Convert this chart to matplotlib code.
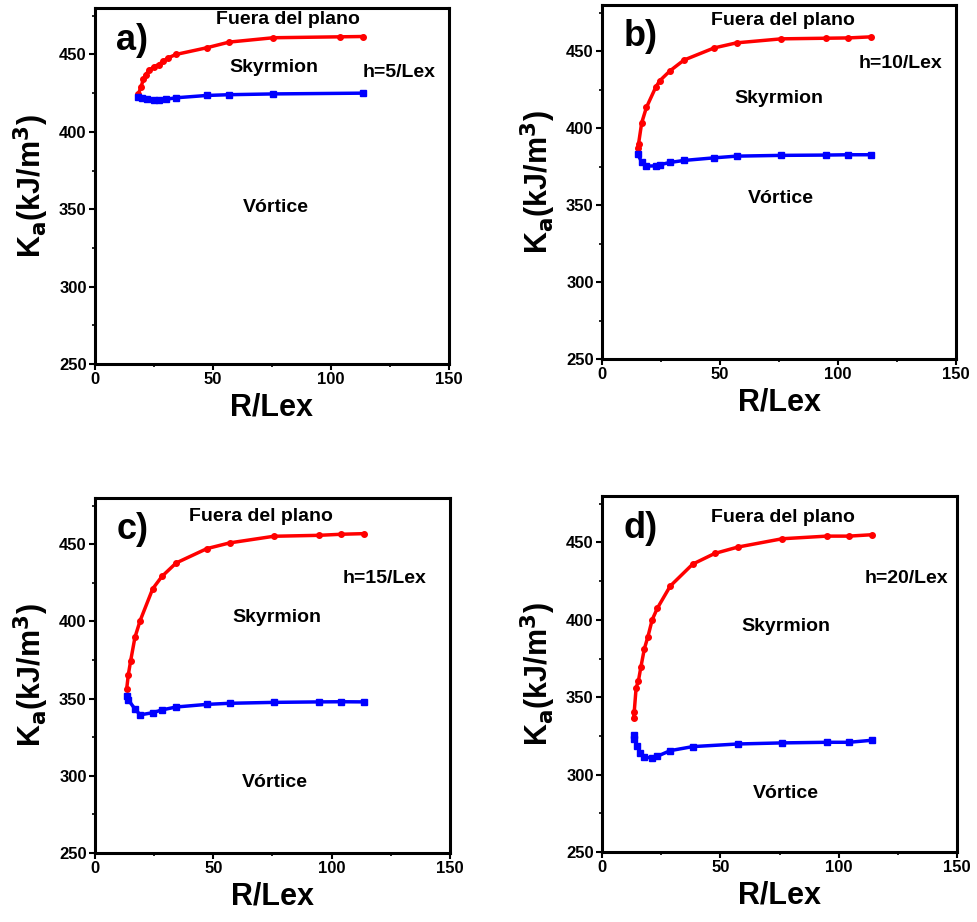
import matplotlib
matplotlib.use("Agg")
import matplotlib.pyplot as plt
from matplotlib.ticker import MultipleLocator

plt.rcParams['font.family'] = ['Liberation Sans', 'DejaVu Sans']
plt.rcParams['font.weight'] = 'bold'

# panel a) h=5/Lex
ra_red = [18.3, 19.5, 20.5, 21.5, 23, 25, 27, 29, 31, 34.3, 47.3, 56.9, 75.6, 104, 113.7]
ka_red = [424.2, 429, 433.9, 437, 439.9, 442, 443.5, 445.7, 447.8, 450, 454.3, 458, 460.8, 461.4, 461.6]
ra_blue = [18.3, 20, 22, 25, 27, 30, 34.3, 47.3, 56.9, 75.6, 113.7]
ka_blue = [422.7, 422, 421.3, 420.8, 420.5, 421, 422, 423.5, 424, 424.5, 425]

# panel b) h=10/Lex
rb_red = [15.1, 15.5, 16.8, 18.8, 22.7, 24.4, 28.8, 34.7, 47.5, 57, 76, 95, 104.4, 114]
kb_red = [386.8, 390, 403.4, 413.4, 426.4, 430.7, 437.2, 444.2, 452.1, 455.4, 458, 458.4, 458.6, 459.3]
rb_blue = [15.1, 16.8, 18.8, 22.7, 24.4, 28.8, 34.7, 47.5, 57, 76, 95, 104.4, 114]
kb_blue = [383.1, 378, 375.3, 375.5, 376.2, 377.7, 379, 380.7, 381.8, 382.3, 382.5, 382.7, 382.7]

# panel c) h=15/Lex
rc_red = [13.4, 14.1, 15.1, 16.9, 19.1, 24.4, 28.3, 34.3, 47.3, 56.9, 75.6, 94.6, 104.1, 113.7]
kc_red = [356.3, 365.6, 374.7, 389.8, 400.6, 421.2, 429.2, 437.9, 447.2, 450.9, 455.2, 455.8, 456.5, 456.9]
rc_blue = [13.4, 14.1, 16.9, 19.1, 24.4, 28.3, 34.3, 47.3, 56.9, 75.6, 94.6, 104.1, 113.7]
kc_blue = [352, 349.2, 343.3, 339.5, 340.9, 342.7, 344.6, 346.3, 347, 347.6, 347.9, 348, 347.9]

# panel d) h=20/Lex
rd_red = [13.3, 13.6, 14.4, 15.4, 16.4, 17.9, 19.4, 21.2, 23.4, 28.8, 38.3, 47.6, 57.3, 76.1, 95, 104.4, 114]
kd_red = [336.3, 340.5, 356, 360.8, 369.4, 381.4, 389.2, 400.1, 407.6, 421.8, 436, 442.9, 447, 452.4, 454.1, 454.1, 455]
rd_blue = [13.3, 13.6, 14.7, 16.2, 17.9, 21.2, 23.4, 28.8, 38.3, 57.3, 76.1, 95, 104.4, 114]
kd_blue = [325.3, 323.3, 318.4, 314, 311.3, 310.8, 311.9, 315.5, 318.1, 319.8, 320.5, 320.9, 320.9, 322.2]

panels = [
    ("a)", ra_red, ka_red, ra_blue, ka_blue, "h=5/Lex",
     [0.0972, 0.6052, 0.3624, 0.3861], (81.8, 472.6), (76, 441.6), (129, 438.4), (76.7, 351)),
    ("b)", rb_red, kb_red, rb_blue, kb_blue, "h=10/Lex",
     [0.6162, 0.6106, 0.3623, 0.3840], (76.7, 470), (75, 419.5), (126.3, 442.2), (75.8, 354.5)),
    ("c)", rc_red, kc_red, rc_blue, kc_blue, "h=15/Lex",
     [0.0972, 0.0748, 0.3634, 0.3851], (70, 468.2), (76.7, 402.6), (122.5, 427.9), (75.8, 296)),
    ("d)", rd_red, kd_red, rd_blue, kd_blue, "h=20/Lex",
     [0.6162, 0.0759, 0.3634, 0.3861], (76.3, 466), (77.5, 395.8), (128.4, 426.8), (77.5, 288)),
]

fig = plt.figure(figsize=(9.77, 9.22), dpi=100)

for tag, xr, yr, xb, yb, hlab, rect, p_fuera, p_sky, p_h, p_vor in panels:
    ax = fig.add_axes(rect)
    ax.plot(xr, yr, '-o', color='#ff0000', lw=2.5, ms=4)
    ax.plot(xb, yb, '-s', color='#0000ff', lw=2.5, ms=4.5)
    ax.set_xlim(0, 150)
    ax.set_ylim(250, 480)
    ax.xaxis.set_major_locator(MultipleLocator(50))
    ax.xaxis.set_minor_locator(MultipleLocator(25))
    ax.yaxis.set_major_locator(MultipleLocator(50))
    ax.yaxis.set_minor_locator(MultipleLocator(25))
    ax.tick_params(which='major', direction='out', length=4, width=1.5,
                   labelsize=12, pad=2)
    ax.tick_params(which='minor', direction='out', length=2.5, width=1.2)
    for lab in ax.get_xticklabels() + ax.get_yticklabels():
        lab.set_fontweight('bold')
    for sp in ax.spines.values():
        sp.set_linewidth(2.2)
    ax.set_xlabel('R/Lex', fontsize=22, fontweight='bold', labelpad=4)
    ax.set_ylabel(r'K$_\mathbf{a}$(kJ/m$^\mathbf{3}$)', fontsize=22,
                  fontweight='bold', labelpad=6)
    ax.text(0.06, 0.91, tag, transform=ax.transAxes, fontsize=26,
            fontweight='bold', ha='left', va='center')
    ax.text(*p_fuera, 'Fuera del plano', fontsize=14, fontweight='bold',
            ha='center', va='center')
    ax.text(*p_sky, 'Skyrmion', fontsize=14, fontweight='bold',
            ha='center', va='center')
    ax.text(*p_h, hlab, fontsize=14, fontweight='bold',
            ha='center', va='center')
    ax.text(*p_vor, 'Vórtice', fontsize=14, fontweight='bold',
            ha='center', va='center')

plt.rcParams['mathtext.fontset'] = 'custom'
fig.savefig('out.png', dpi=100)
